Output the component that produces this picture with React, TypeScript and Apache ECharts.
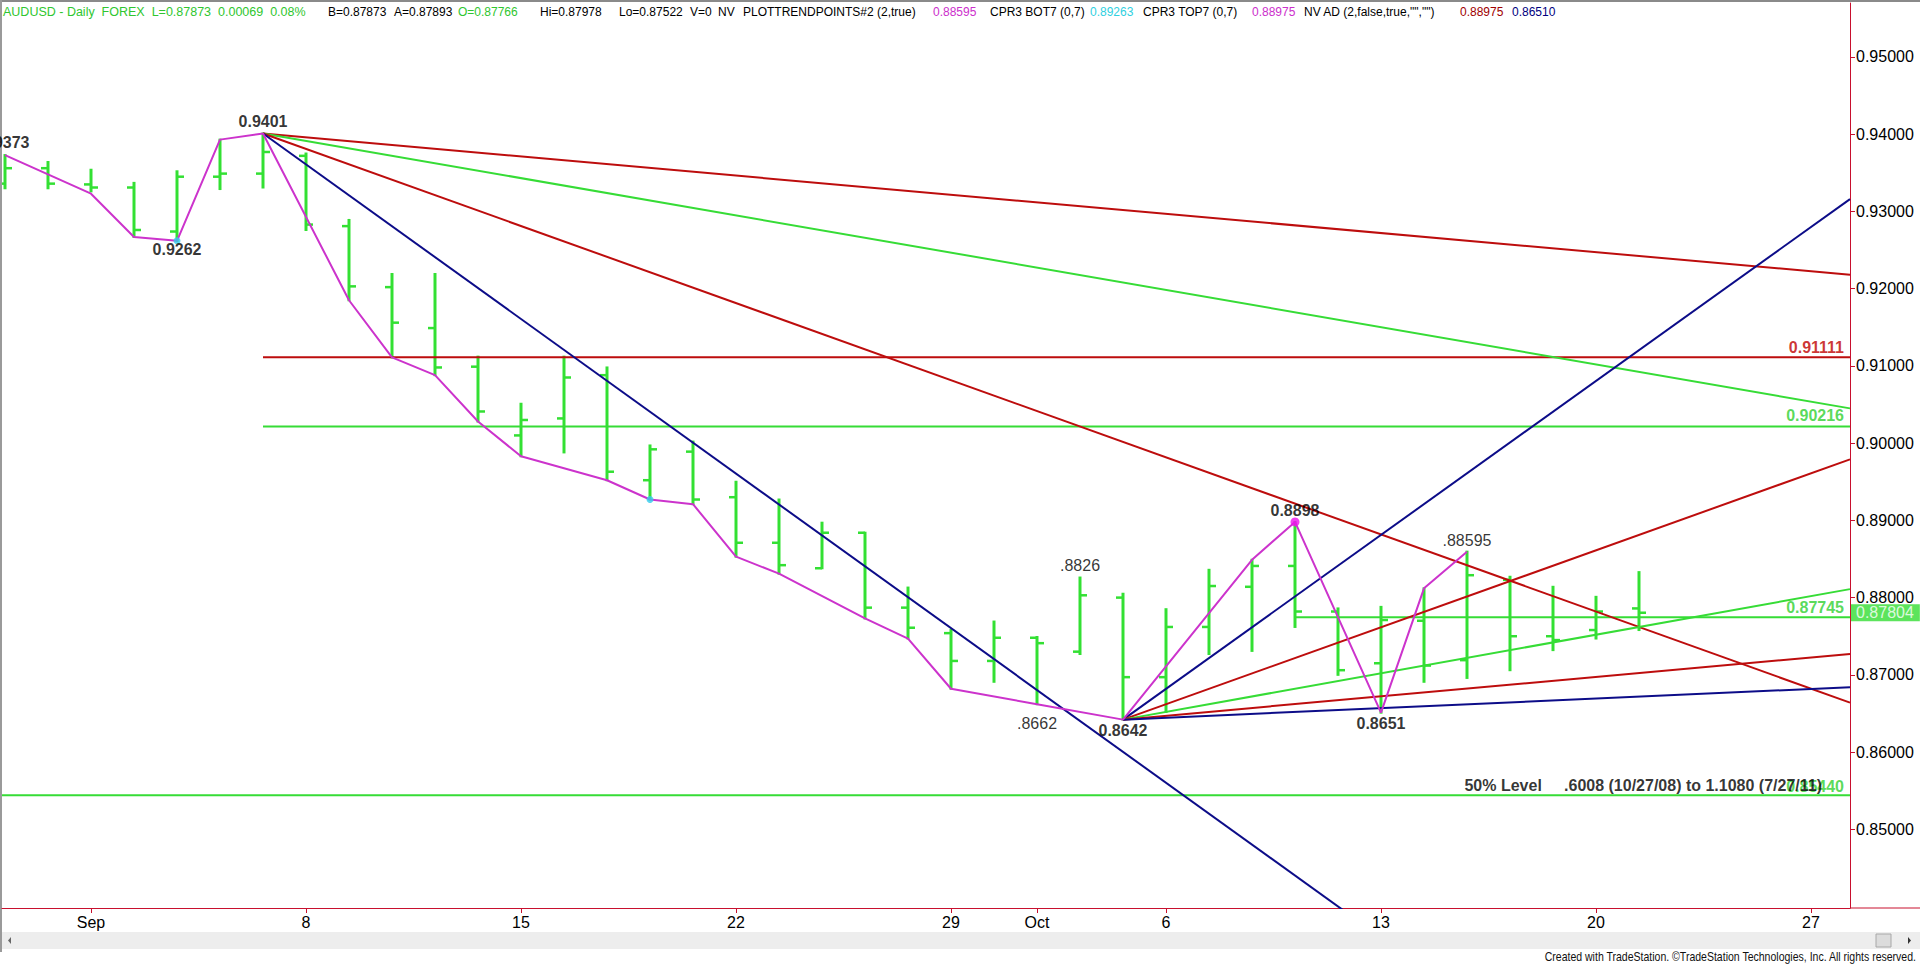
import React, { useEffect, useRef } from "react";
import * as echarts from "echarts";

// ---------- DATA ----------
const dates = [
  "2014-08-28", "2014-08-29",
  "2014-09-01", "2014-09-02", "2014-09-03", "2014-09-04", "2014-09-05",
  "2014-09-08", "2014-09-09", "2014-09-10", "2014-09-11", "2014-09-12",
  "2014-09-15", "2014-09-16", "2014-09-17", "2014-09-18", "2014-09-19",
  "2014-09-22", "2014-09-23", "2014-09-24", "2014-09-25", "2014-09-26",
  "2014-09-29", "2014-09-30", "2014-10-01", "2014-10-02", "2014-10-03",
  "2014-10-06", "2014-10-07", "2014-10-08", "2014-10-09", "2014-10-10",
  "2014-10-13", "2014-10-14", "2014-10-15", "2014-10-16", "2014-10-17",
  "2014-10-20", "2014-10-21",
];
const opens = [
  0.9336, 0.9356,
  0.9335, 0.9331, 0.9274, 0.9345, 0.9349,
  0.9372, 0.9281, 0.9202, 0.9149, 0.9099,
  0.9010, 0.9032, 0.9088, 0.8952, 0.8989,
  0.8930, 0.8871, 0.8838, 0.8884, 0.8787,
  0.8754, 0.8718, 0.8748, 0.8730, 0.8800,
  0.8697, 0.8762, 0.8814, 0.8841, 0.8782,
  0.8715, 0.8770, 0.8719, 0.8823, 0.8750,
  0.8758, 0.8786,
];
const highs = [
  0.9373, 0.9364,
  0.9354, 0.9337, 0.9352, 0.9393, 0.9401,
  0.9375, 0.9289, 0.9219, 0.9219, 0.9112,
  0.9051, 0.9112, 0.9098, 0.8997, 0.9002,
  0.8950, 0.8927, 0.8897, 0.8884, 0.8813,
  0.8758, 0.8769, 0.8749, 0.8826, 0.8805,
  0.8785, 0.8836, 0.8849, 0.8898, 0.8786,
  0.8788, 0.8812, 0.88595, 0.8827, 0.8814,
  0.8801, 0.8833,
];
const lows = [
  0.9330, 0.9330,
  0.9326, 0.9267, 0.9262, 0.9329, 0.9331,
  0.9276, 0.9185, 0.9111, 0.9088, 0.9028,
  0.8983, 0.8988, 0.8952, 0.8927, 0.8921,
  0.8853, 0.8831, 0.8838, 0.8773, 0.8747,
  0.8682, 0.8691, 0.8662, 0.8727, 0.8642,
  0.8652, 0.8727, 0.8731, 0.8762, 0.8700,
  0.8651, 0.8691, 0.8696, 0.8706, 0.8732,
  0.8747, 0.8758,
];
const closes = [
  0.9356, 0.9336,
  0.9331, 0.9276, 0.9345, 0.9349, 0.9377,
  0.9283, 0.9203, 0.9156, 0.9098, 0.9041,
  0.9030, 0.9085, 0.8963, 0.8992, 0.8927,
  0.8871, 0.8842, 0.8884, 0.8787, 0.8761,
  0.8718, 0.8748, 0.8741, 0.8803, 0.8697,
  0.8762, 0.8815, 0.8841, 0.8782, 0.8706,
  0.8771, 0.8712, 0.8829, 0.8750, 0.8745,
  0.8782, 0.87804,
];

// x axis ticks (bar index) and labels
const xTickIndex = [2, 7, 12, 17, 22, 24, 27, 32, 37, 42];
const xTickLabels = ["Sep", "8", "15", "22", "29", "Oct", "6", "13", "20", "27"];
// y axis ticks
const yTickValues = [0.85, 0.86, 0.87, 0.88, 0.89, 0.9, 0.91, 0.92, 0.93, 0.94, 0.95];

// swing (trend point) zig-zag
const swingIdx = [0, 2, 3, 4, 5, 6, 8, 9, 10, 11, 12, 14, 15, 16, 17, 18, 20, 21, 22, 24, 26, 29, 30, 32, 33, 34];
const swingVal = [
  0.9373, 0.9323, 0.9267, 0.9262, 0.9393, 0.9401, 0.9185, 0.9111, 0.9088, 0.9028,
  0.8983, 0.8952, 0.8927, 0.8921, 0.8853, 0.8831, 0.8773, 0.8747, 0.8682, 0.8662,
  0.8642, 0.8849, 0.8898, 0.8651, 0.8812, 0.88595,
];
const cyanDotIdx = [4, 15];
const cyanDotVal = [0.9262, 0.8927];
const magentaDotIdx = [30];
const magentaDotVal = [0.8898];

// pivot labels
const pivotIdx = [0, 6, 4, 25, 24, 26, 30, 34, 32];
const pivotVal = [0.9373, 0.9401, 0.9262, 0.8826, 0.8662, 0.8642, 0.8898, 0.88595, 0.8651];
const pivotText = ["0.9373", "0.9401", "0.9262", ".8826", ".8662", "0.8642", "0.8898", ".88595", "0.8651"];

// trend lines: [barIndex, price]
const fanTopRed = [[6, 0.9401], [42.907, 0.9218]];
const fanTopGreen = [[6, 0.9401], [42.907, 0.9045]];
const fanTopRed2 = [[6, 0.9401], [42.907, 0.8664]];
const fanTopBlue = [[6, 0.9401], [34, 0.828]];
const fanLowBlue = [[26, 0.8642], [42.907, 0.9316]];
const fanLowRed = [[26, 0.8642], [42.907, 0.8979]];
const fanLowGreen = [[26, 0.8642], [42.907, 0.8811]];
const fanLowRed2 = [[26, 0.8642], [42.907, 0.8727]];
const fanLowBlue2 = [[26, 0.8642], [42.907, 0.8684]];

// horizontal levels
const levelValues = [0.91111, 0.90216, 0.87745, 0.8544];
const levelStartIdx = [6, 6, 30, -0.07];
const levelText = ["0.91111", "0.90216", "0.87745", "0.85440"];
const retraceText = "50% Level\u00a0\u00a0\u00a0\u00a0\u00a0.6008 (10/27/08) to 1.1080 (7/27/11)";

// header
const headerParts = [
  { t: "AUDUSD - Daily\u00a0\u00a0FOREX\u00a0\u00a0L=0.87873\u00a0\u00a00.00069\u00a0\u00a00.08%", c: "green", x: 3, size: 12.5 },
  { t: "B=0.87873", c: "black", x: 328, size: 12 },
  { t: "A=0.87893", c: "black", x: 394, size: 12 },
  { t: "O=0.87766", c: "green", x: 458, size: 12 },
  { t: "Hi=0.87978", c: "black", x: 540, size: 12 },
  { t: "Lo=0.87522", c: "black", x: 619, size: 12 },
  { t: "V=0", c: "black", x: 690, size: 12 },
  { t: "NV", c: "black", x: 718, size: 12 },
  { t: "PLOTTRENDPOINTS#2 (2,true)", c: "black", x: 743, size: 12 },
  { t: "0.88595", c: "magenta", x: 933, size: 12 },
  { t: "CPR3 BOT7 (0,7)", c: "black", x: 990, size: 12 },
  { t: "0.89263", c: "cyan", x: 1090, size: 12 },
  { t: "CPR3 TOP7 (0,7)", c: "black", x: 1143, size: 12 },
  { t: "0.88975", c: "magenta", x: 1252, size: 12 },
  { t: "NV AD (2,false,true,\"\",\"\")", c: "black", x: 1304, size: 12 },
  { t: "0.88975", c: "darkred", x: 1460, size: 12 },
  { t: "0.86510", c: "navy", x: 1512, size: 12 },
];
const footerText = "Created with TradeStation. \u00a9TradeStation Technologies, Inc. All rights reserved.";

// ---------- STYLE ----------
const FONT = "'Liberation Sans', Arial, sans-serif";
const BAR_GREEN = "#33e033";
const LINE_GREEN = "#36dc36";
const RED = "#bd0d0d";
const BLUE = "#0c0c88";
const MAGENTA = "#cc33cc";
const AXIS_RED = "#c8102e";
const X_MIN = -0.0698;
const X_MAX = 42.907;
const Y_MIN = 0.83981;
const Y_MAX = 0.95699;
const headerColors: Record<string, string> = {
  green: "#2fc62f",
  black: "#000000",
  magenta: "#cc2fcc",
  cyan: "#2fd0e0",
  darkred: "#a00000",
  navy: "#000080",
};

const pivotStyle = [
  { bold: true, dy: -13 },
  { bold: true, dy: -12 },
  { bold: true, dy: 9 },
  { bold: false, dy: -12 },
  { bold: false, dy: 19 },
  { bold: true, dy: 11 },
  { bold: true, dy: -11 },
  { bold: false, dy: -11 },
  { bold: true, dy: 11 },
];
const levelColors = [RED, LINE_GREEN, LINE_GREEN, LINE_GREEN];
const levelLabelColors = ["#c00000", "#2fd02f", "#2fd02f", "#2fd02f"];

function lineSeries(name: string, data: number[][], color: string, width = 2) {
  return {
    name,
    type: "line",
    data,
    symbol: "none",
    clip: true,
    lineStyle: { color, width },
    silent: true,
    z: 3,
  };
}

export default function App() {
  const ref = useRef<HTMLDivElement>(null);

  useEffect(() => {
    if (!ref.current) return;
    const chart = echarts.init(ref.current, undefined, { renderer: "svg" });

    const ohlcData = dates.map((d, i) => [i, opens[i], highs[i], lows[i], closes[i], d]);

    const pivotData = pivotIdx.map((ix, k) => ({
      value: [ix, pivotVal[k]],
      label: {
        formatter: pivotText[k],
        fontWeight: pivotStyle[k].bold ? "bold" : "normal",
        fontSize: 16,
        offset: [0, pivotStyle[k].dy],
      },
    }));

    const levelLabelData = levelValues.map((v, k) => ({
      value: [X_MAX, v],
      label: {
        formatter: levelText[k],
        color: levelLabelColors[k],
        offset: [-6, k === 3 ? -9 : k === 1 ? -11 : -10],
      },
    }));

    const graphics: any[] = [
      { type: "rect", shape: { x: 0, y: 0, width: 1920, height: 2 }, style: { fill: "#8a8a8a" }, silent: true },
      { type: "rect", shape: { x: 0, y: 0, width: 2, height: 952 }, style: { fill: "#9a9a9a" }, silent: true },
      { type: "line", shape: { x1: 1850, y1: 908, x2: 1920, y2: 908 }, style: { stroke: AXIS_RED, lineWidth: 1 }, silent: true },
      { type: "rect", shape: { x: 2, y: 932, width: 1918, height: 17 }, style: { fill: "#ededed" }, silent: true },
      { type: "polygon", shape: { points: [[11, 937], [11, 944], [8, 940.5]] }, style: { fill: "#666" }, silent: true },
      { type: "rect", shape: { x: 1876, y: 934, width: 15, height: 13 }, style: { fill: "#dcdcdc", stroke: "#a8a8a8", lineWidth: 1 }, silent: true },
      { type: "polygon", shape: { points: [[1908, 937], [1908, 944], [1911, 940.5]] }, style: { fill: "#333" }, silent: true },
      ...headerParts.map((p) => ({
        type: "text",
        x: p.x,
        y: 12,
        style: { text: p.t, fill: headerColors[p.c], font: `${p.size}px ${FONT}`, textVerticalAlign: "middle", textAlign: "left" },
        silent: true,
      })),
      {
        type: "text",
        x: 1916,
        y: 957,
        scaleX: 0.81,
        style: { text: footerText, fill: "#111", font: `13px ${FONT}`, textVerticalAlign: "middle", textAlign: "right" },
        silent: true,
      },
    ];

    const option: any = {
      animation: false,
      backgroundColor: "#ffffff",
      textStyle: { fontFamily: FONT },
      grid: { left: 2, right: 70, top: 3, bottom: 56, containLabel: false },
      xAxis: {
        type: "value",
        min: X_MIN,
        max: X_MAX,
        splitLine: { show: false },
        axisLine: { show: true, onZero: false, lineStyle: { color: AXIS_RED, width: 1 } },
        axisTick: { show: true, length: 5, lineStyle: { color: AXIS_RED }, customValues: xTickIndex },
        axisLabel: {
          show: true,
          customValues: xTickIndex,
          color: "#000",
          fontSize: 16,
          fontFamily: FONT,
          margin: 6,
          formatter: (v: number) => {
            const k = xTickIndex.findIndex((t) => Math.abs(t - v) < 1e-6);
            return k >= 0 ? xTickLabels[k] : "";
          },
        },
      },
      yAxis: {
        type: "value",
        position: "right",
        min: Y_MIN,
        max: Y_MAX,
        scale: true,
        splitLine: { show: false },
        axisLine: { show: true, onZero: false, lineStyle: { color: AXIS_RED, width: 1 } },
        axisTick: { show: true, length: 5, lineStyle: { color: AXIS_RED }, customValues: yTickValues },
        axisLabel: {
          show: true,
          customValues: yTickValues,
          color: "#000",
          fontSize: 16,
          fontFamily: FONT,
          margin: 6,
          formatter: (v: number) => v.toFixed(5),
        },
      },
      graphic: graphics,
      series: [
        {
          name: "AUDUSD",
          type: "custom",
          data: ohlcData,
          encode: { x: 0, y: [1, 2, 3, 4] },
          clip: true,
          z: 2,
          silent: true,
          renderItem: (params: any, api: any) => {
            const i = api.value(0);
            const pO = api.coord([i, api.value(1)]);
            const pH = api.coord([i, api.value(2)]);
            const pL = api.coord([i, api.value(3)]);
            const pC = api.coord([i, api.value(4)]);
            const x = pH[0];
            return {
              type: "group",
              children: [
                { type: "line", shape: { x1: x, y1: pH[1] - 1, x2: x, y2: pL[1] + 1 }, style: { stroke: BAR_GREEN, lineWidth: 3 } },
                { type: "line", shape: { x1: x - 7, y1: pO[1], x2: x, y2: pO[1] }, style: { stroke: BAR_GREEN, lineWidth: 2.5 } },
                { type: "line", shape: { x1: x, y1: pC[1], x2: x + 7, y2: pC[1] }, style: { stroke: BAR_GREEN, lineWidth: 2.5 } },
              ],
            };
          },
        },
        ...levelValues.map((v, k) =>
          lineSeries("level" + k, [[levelStartIdx[k], v], [X_MAX, v]], levelColors[k], 2)
        ),
        lineSeries("fanTopRed", fanTopRed, RED),
        lineSeries("fanTopGreen", fanTopGreen, LINE_GREEN),
        lineSeries("fanTopRed2", fanTopRed2, RED),
        lineSeries("fanTopBlue", fanTopBlue, BLUE),
        lineSeries("fanLowBlue", fanLowBlue, BLUE),
        lineSeries("fanLowRed", fanLowRed, RED),
        lineSeries("fanLowGreen", fanLowGreen, LINE_GREEN),
        lineSeries("fanLowRed2", fanLowRed2, RED),
        lineSeries("fanLowBlue2", fanLowBlue2, BLUE),
        {
          name: "swing",
          type: "line",
          data: swingIdx.map((ix, k) => [ix, swingVal[k]]),
          symbol: "none",
          lineStyle: { color: MAGENTA, width: 2 },
          z: 4,
          silent: true,
        },
        {
          name: "cyanDots",
          type: "scatter",
          data: cyanDotIdx.map((ix, k) => [ix, cyanDotVal[k]]),
          symbolSize: 7,
          itemStyle: { color: "#33ccee" },
          z: 5,
          silent: true,
        },
        {
          name: "magentaDots",
          type: "scatter",
          data: magentaDotIdx.map((ix, k) => [ix, magentaDotVal[k]]),
          symbolSize: 9,
          itemStyle: { color: "#ee11ee" },
          z: 5,
          silent: true,
        },
        {
          name: "levelLabels",
          type: "scatter",
          data: levelLabelData,
          symbolSize: 1,
          clip: false,
          itemStyle: { color: "rgba(0,0,0,0)" },
          label: {
            show: true,
            position: "inside",
            align: "right",
            verticalAlign: "middle",
            fontSize: 16,
            fontWeight: "bold",
            fontFamily: FONT,
          },
          z: 6,
          silent: true,
        },
        {
          name: "retraceLabel",
          type: "scatter",
          data: [{ value: [X_MAX, levelValues[3]], label: { formatter: retraceText, offset: [-28, -10] } }],
          symbolSize: 1,
          clip: false,
          itemStyle: { color: "rgba(0,0,0,0)" },
          label: {
            show: true,
            position: "inside",
            align: "right",
            verticalAlign: "middle",
            fontSize: 16,
            fontWeight: "bold",
            color: "#000",
            fontFamily: FONT,
          },
          z: 7,
          silent: true,
        },
        {
          name: "pivotLabels",
          type: "scatter",
          data: pivotData,
          symbolSize: 1,
          clip: false,
          itemStyle: { color: "rgba(0,0,0,0)" },
          label: {
            show: true,
            position: "inside",
            align: "center",
            verticalAlign: "middle",
            color: "#000",
            fontFamily: FONT,
          },
          z: 7,
          silent: true,
        },
        {
          name: "lastPrice",
          type: "scatter",
          data: [{ value: [X_MAX, closes[closes.length - 1]] }],
          symbolSize: 1,
          clip: false,
          itemStyle: { color: "rgba(0,0,0,0)" },
          label: {
            show: true,
            position: "inside",
            align: "left",
            verticalAlign: "middle",
            offset: [1, 0],
            formatter: (p: any) => p.value[1].toFixed(5),
            color: "#ffffff",
            backgroundColor: "#33dd33",
            padding: [1, 6, 0, 5],
            fontSize: 16,
            fontFamily: FONT,
          },
          z: 8,
          silent: true,
        },
      ],
    };

    chart.setOption(option);
    return () => chart.dispose();
  }, []);

  return (
    <div
      ref={ref}
      style={{ position: "fixed", left: 0, top: 0, width: 1920, height: 964, background: "#fff" }}
    />
  );
}
